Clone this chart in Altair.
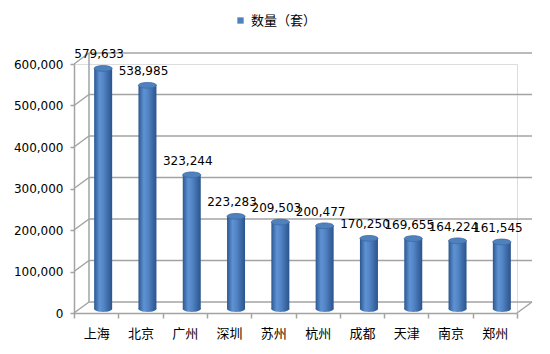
import altair as alt
import pandas as pd

cities = ["上海", "北京", "广州", "深圳", "苏州", "杭州", "成都", "天津", "南京", "郑州"]
counts = [579633, 538985, 323244, 223283, 209503, 200477, 170250, 169655, 164224, 161545]
series_name = "数量（套）"
y_ticks = [0, 100000, 200000, 300000, 400000, 500000, 600000]

df = pd.DataFrame({"city": cities, "count": counts, "series": [series_name] * len(cities)})
grid_df = pd.DataFrame({"v": y_ticks})

W = 443
H = 249
DX = 15   # depth offset x
DY = -11  # depth offset y
GRID = "#a3a3a3"
FONT_NUM = "DejaVu Sans"
FONT_CJK = "Noto Sans CJK SC"

xenc = alt.X("city:N", sort=cities, scale=alt.Scale(paddingInner=0, paddingOuter=0),
             axis=alt.Axis(title=None, labelAngle=0, labelFont=FONT_CJK, labelFontSize=13,
                           labelColor="#000", domainColor=GRID, domainWidth=1.5,
                           tickColor=GRID, tickWidth=1.5, tickSize=5, tickBand="extent",
                           labelPadding=9))
yscale = alt.Scale(domain=[0, 600000], nice=False)
yaxis = alt.Axis(title=None, values=y_ticks, format=",d", grid=False,
                 labelFont=FONT_NUM, labelFontSize=12, labelColor="#000",
                 domainColor=GRID, domainWidth=1.5, tickColor=GRID,
                 tickWidth=1.5, tickSize=4, labelPadding=7)

base = alt.Chart(df)
gbase = alt.Chart(grid_df)

# back-wall gridlines (carries the y axis)
grid = gbase.mark_rule(color=GRID, strokeWidth=1.5, yOffset=DY, y2Offset=DY).encode(
    y=alt.Y("v:Q", scale=yscale, axis=yaxis),
    x=alt.value(DX), x2=alt.value(W + DX))
# side-wall diagonals
diag = gbase.mark_rule(color=GRID, strokeWidth=1.5, y2Offset=DY).encode(
    y=alt.Y("v:Q", scale=yscale), y2="v:Q",
    x=alt.value(0), x2=alt.value(DX))
# back-left vertical edge
back_edge = gbase.mark_rule(color=GRID, strokeWidth=1.5, yOffset=DY, y2Offset=DY).encode(
    y=alt.Y("min(v):Q", scale=yscale), y2="max(v):Q", x=alt.value(DX))
# floor right edge
floor_edge = gbase.mark_rule(color=GRID, strokeWidth=1.5, y2Offset=DY).encode(
    y=alt.Y("min(v):Q", scale=yscale), y2="min(v):Q",
    x=alt.value(W), x2=alt.value(W + DX))

grad = alt.LinearGradient(
    gradient="linear", x1=0, x2=1, y1=0, y2=0,
    stops=[alt.GradientStop(offset=0, color="#2b5791"),
           alt.GradientStop(offset=0.3, color="#5f92d2"),
           alt.GradientStop(offset=0.5, color="#5587c8"),
           alt.GradientStop(offset=1, color="#2a548c")])

ellipse = "M -1 0 A 1 0.32 0 1 0 1 0 A 1 0.32 0 1 0 -1 0 Z"

bottom = base.mark_point(shape=ellipse, filled=True, fill=grad, size=324, opacity=1,
                         xOffset=7, yOffset=-4).encode(
    x=xenc, y=alt.datum(0, scale=yscale))
bars = base.mark_bar(fill=grad, size=18, xOffset=7, yOffset=-4, y2Offset=-4).encode(
    x=xenc,
    y=alt.Y("count:Q", scale=yscale),
    y2=alt.datum(0))
top = base.mark_point(shape=ellipse, filled=True, size=324, opacity=1,
                      stroke="#3c6aa6", strokeWidth=0.8,
                      xOffset=7, yOffset=-4).encode(
    x=xenc, y=alt.Y("count:Q", scale=yscale),
    color=alt.Color("series:N", scale=alt.Scale(range=["#4f81bd"]),
                    legend=alt.Legend(title=None, orient="none", legendX=160, legendY=-50,
                                      symbolType="square", symbolSize=40,
                                      symbolStrokeWidth=0,
                                      labelFont=FONT_CJK, labelFontSize=13,
                                      labelColor="#000")))
labels = base.mark_text(font=FONT_NUM, fontSize=12, color="#000", dy=-18, xOffset=3,
                        baseline="middle").encode(
    x=xenc, y=alt.Y("count:Q", scale=yscale), text=alt.Text("count:Q", format=",d"))

chart = alt.layer(grid, diag, back_edge, floor_edge, bottom, bars, top, labels).properties(
    width=W, height=H,
    autosize=alt.AutoSizeParams(type="none"),
    padding={"left": 74, "top": 64, "right": 33, "bottom": 41},
).configure_view(stroke=None).configure(background="white")

chart.save("out.html", embed_options={"renderer": "svg", "actions": False})
